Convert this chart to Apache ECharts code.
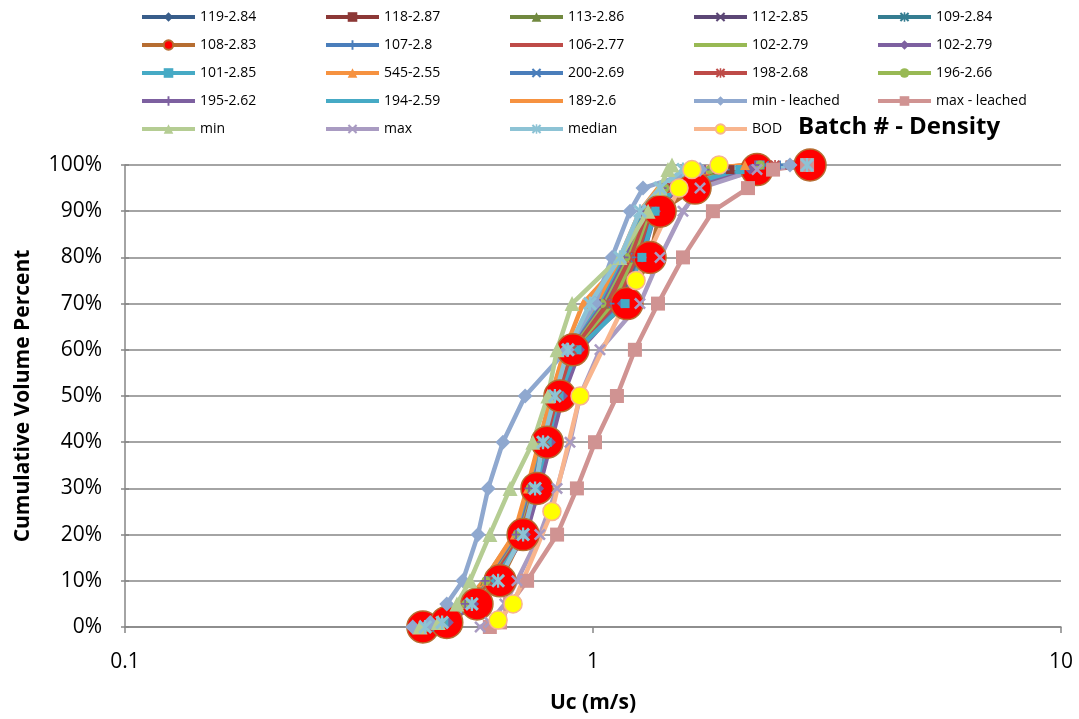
<!DOCTYPE html>
<html>
<head>
<meta charset="utf-8">
<title>Batch # - Density</title>
<script src="https://cdn.jsdelivr.net/npm/echarts@6/dist/echarts.min.js"></script>
<style>
  html, body { margin: 0; padding: 0; background: #fff; }
  #chart { width: 1079px; height: 719px; }
</style>
</head>
<body>
<div id="chart"></div>
<script>
// cumulative volume percent levels used by every sample series
const pctLevels = [0, 1, 5, 10, 20, 30, 40, 50, 60, 70, 80, 90, 95, 99, 100];
// BOD is sampled at its own levels
const bodPct = [1.5, 5, 25, 50, 75, 95, 99, 100];

// Uc (m/s), one value per level above
const uc119 = [0.444, 0.477, 0.541, 0.596, 0.698, 0.743, 0.790, 0.838, 0.902, 1.100, 1.211, 1.311, 1.447, 1.868, 2.275];
const uc118 = [0.449, 0.483, 0.546, 0.602, 0.705, 0.752, 0.798, 0.846, 0.915, 1.114, 1.229, 1.324, 1.475, 1.962, 2.636];
const uc113 = [0.440, 0.471, 0.533, 0.588, 0.691, 0.738, 0.782, 0.829, 0.893, 1.076, 1.200, 1.297, 1.425, 1.823, 2.389];
const uc112 = [0.453, 0.490, 0.554, 0.614, 0.716, 0.762, 0.809, 0.858, 0.929, 1.131, 1.247, 1.344, 1.497, 2.061, 2.769];
const uc109 = [0.446, 0.480, 0.543, 0.599, 0.702, 0.748, 0.794, 0.842, 0.911, 1.142, 1.260, 1.357, 1.504, 2.112, 2.838];
const uc108 = [0.433, 0.487, 0.565, 0.633, 0.709, 0.759, 0.798, 0.850, 0.906, 1.182, 1.324, 1.391, 1.652, 2.241, 2.909];
const uc107 = [0.442, 0.476, 0.538, 0.593, 0.695, 0.741, 0.786, 0.833, 0.897, 1.087, 1.211, 1.311, 1.447, 1.915, 2.510];
const uc106 = [0.451, 0.486, 0.549, 0.608, 0.709, 0.756, 0.801, 0.850, 0.920, 1.120, 1.235, 1.331, 1.468, 2.011, 2.702];
const uc102a = [0.444, 0.477, 0.541, 0.599, 0.698, 0.743, 0.790, 0.838, 0.906, 1.100, 1.217, 1.318, 1.461, 1.943, 2.572];
const uc102b = [0.455, 0.492, 0.557, 0.617, 0.719, 0.767, 0.813, 0.863, 0.938, 1.153, 1.273, 1.363, 1.519, 2.165, 2.880];
const uc101 = [0.446, 0.480, 0.543, 0.602, 0.705, 0.752, 0.798, 0.846, 0.924, 1.171, 1.272, 1.357, 1.497, 2.061, 2.275];
const uc545 = [0.438, 0.471, 0.535, 0.591, 0.681, 0.726, 0.770, 0.817, 0.871, 0.952, 1.171, 1.291, 1.425, 1.735, 2.112];
const uc200 = [0.442, 0.476, 0.538, 0.596, 0.691, 0.738, 0.782, 0.833, 0.893, 1.061, 1.188, 1.297, 1.447, 1.796, 2.331];
const uc198 = [0.444, 0.477, 0.541, 0.599, 0.695, 0.741, 0.790, 0.838, 0.902, 1.076, 1.200, 1.304, 1.447, 1.849, 2.449];
const uc196 = [0.440, 0.473, 0.535, 0.591, 0.688, 0.734, 0.778, 0.825, 0.884, 1.045, 1.176, 1.285, 1.425, 1.778, 2.275];
const uc195 = [0.438, 0.471, 0.533, 0.588, 0.685, 0.730, 0.774, 0.821, 0.880, 1.035, 1.165, 1.272, 1.404, 1.735, 2.219];
const uc194 = [0.435, 0.469, 0.530, 0.585, 0.681, 0.726, 0.770, 0.817, 0.876, 1.025, 1.153, 1.266, 1.391, 1.693, 2.165];
const uc189 = [0.435, 0.469, 0.530, 0.585, 0.678, 0.723, 0.767, 0.813, 0.871, 1.015, 1.142, 1.260, 1.377, 1.677, 2.112];
const ucMinLeached = [0.412, 0.449, 0.487, 0.527, 0.568, 0.597, 0.642, 0.716, 0.880, 1.010, 1.098, 1.200, 1.279, 1.693, 2.636];
const ucMaxLeached = [0.602, 0.633, 0.665, 0.723, 0.838, 0.924, 1.010, 1.125, 1.229, 1.377, 1.557, 1.804, 2.144, 2.425, 2.867];
const ucMin = [0.427, 0.467, 0.512, 0.546, 0.602, 0.665, 0.744, 0.801, 0.838, 0.902, 1.142, 1.311, 1.391, 1.446, 1.475];
const ucMax = [0.574, 0.602, 0.648, 0.688, 0.770, 0.838, 0.893, 0.938, 1.035, 1.260, 1.391, 1.557, 1.693, 2.241, 2.880];
const ucMedian = [0.438, 0.476, 0.551, 0.627, 0.709, 0.752, 0.782, 0.829, 0.884, 0.985, 1.142, 1.260, 1.391, 1.557, 2.866];
const ucBod = [0.627, 0.675, 0.817, 0.938, 1.236, 1.527, 1.627, 1.859];

const yTicks = [0, 10, 20, 30, 40, 50, 60, 70, 80, 90, 100];

// excel-ish marker shapes
const X_PATH = 'path://M1.5,0 L5,3.5 L8.5,0 L10,1.5 L6.5,5 L10,8.5 L8.5,10 L5,6.5 L1.5,10 L0,8.5 L3.5,5 L0,1.5 Z';
const PLUS_PATH = 'path://M4,0 L6,0 L6,4 L10,4 L10,6 L6,6 L6,10 L4,10 L4,6 L0,6 L0,4 L4,4 Z';
const STAR_PATH = 'path://M1.5,0 L5,3.5 L8.5,0 L10,1.5 L6.5,5 L10,8.5 L8.5,10 L5,6.5 L1.5,10 L0,8.5 L3.5,5 L0,1.5 Z M4.2,0 L5.8,0 L5.8,10 L4.2,10 Z';

const FONT = '"Open Sans", Lato, sans-serif';

// name, values, colour, marker (size), marker fill/border for the special ones
const seriesDefs = [
    { name: '119-2.84', x: uc119, color: '#385D8A', symbol: 'diamond', size: 10 },
    { name: '118-2.87', x: uc118, color: '#8C3836', symbol: 'rect', size: 9 },
    { name: '113-2.86', x: uc113, color: '#71893F', symbol: 'triangle', size: 10 },
    { name: '112-2.85', x: uc112, color: '#5C4776', symbol: X_PATH, size: 9 },
    { name: '109-2.84', x: uc109, color: '#357D91', symbol: STAR_PATH, size: 10 },
    { name: '108-2.83', x: uc108, color: '#B66D31', symbol: 'circle', size: 32, fill: '#FF0000', border: '#B66D31' },
    { name: '107-2.8', x: uc107, color: '#4A7EBB', symbol: PLUS_PATH, size: 9 },
    { name: '106-2.77', x: uc106, color: '#BE4B48', symbol: 'none', size: 0 },
    { name: '102-2.79', x: uc102a, color: '#98B954', symbol: 'none', size: 0 },
    { name: '102-2.79 ', x: uc102b, color: '#7D60A0', symbol: 'diamond', size: 10 },
    { name: '101-2.85', x: uc101, color: '#46AAC5', symbol: 'rect', size: 9 },
    { name: '545-2.55', x: uc545, color: '#F69240', symbol: 'triangle', size: 10 },
    { name: '200-2.69', x: uc200, color: '#4A7EBB', symbol: X_PATH, size: 9 },
    { name: '198-2.68', x: uc198, color: '#BE4B48', symbol: STAR_PATH, size: 10 },
    { name: '196-2.66', x: uc196, color: '#98B954', symbol: 'circle', size: 9 },
    { name: '195-2.62', x: uc195, color: '#7D60A0', symbol: PLUS_PATH, size: 9 },
    { name: '194-2.59', x: uc194, color: '#46AAC5', symbol: 'none', size: 0 },
    { name: '189-2.6', x: uc189, color: '#F69240', symbol: 'none', size: 0 },
    { name: 'min - leached', x: ucMinLeached, color: '#8FA8CF', symbol: 'diamond', size: 15 },
    { name: 'max - leached', x: ucMaxLeached, color: '#D09392', symbol: 'rect', size: 14 },
    { name: 'min', x: ucMin, color: '#B5CD93', symbol: 'triangle', size: 15 },
    { name: 'max', x: ucMax, color: '#A99BC2', symbol: X_PATH, size: 12 },
    { name: 'median', x: ucMedian, color: '#8DC3D5', symbol: STAR_PATH, size: 14 },
    { name: 'BOD', x: ucBod, y: bodPct, color: '#F8B58E', symbol: 'circle', size: 18, fill: '#FFFF00', border: '#F8B58E' }
];

const series = seriesDefs.map(d => {
    const ys = d.y || pctLevels;
    return {
        type: 'line',
        name: d.name,
        data: d.x.map((v, i) => [v, ys[i]]),
        symbol: d.symbol,
        symbolSize: d.size,
        showSymbol: d.symbol !== 'none',
        lineStyle: { color: d.color, width: 4.5 },
        itemStyle: d.fill
            ? { color: d.fill, borderColor: d.border, borderWidth: 1.5 }
            : { color: d.color, borderWidth: 0 },
        emphasis: { disabled: true }
    };
});

// excel lays the legend out row by row in five columns
const colLeft = [140, 324, 508, 692, 876];
const legends = colLeft.map((left, c) => ({
    orient: 'vertical',
    left: left,
    top: 10,
    padding: 0,
    itemWidth: 53,
    itemHeight: 12,
    itemGap: 14,
    selectedMode: false,
    lineStyle: { width: 4 },
    textStyle: { fontSize: 14, fontFamily: FONT, color: '#000', lineHeight: 12 },
    data: seriesDefs
        .filter((d, i) => i % 5 === c)
        .map(d => d.symbol === 'none'
            ? { name: d.name, itemStyle: { opacity: 0 } }
            : { name: d.name })
}));

const chart = echarts.init(document.getElementById('chart'));
chart.setOption({
    animation: false,
    backgroundColor: '#fff',
    title: {
        text: 'Batch # - Density',
        left: 798,
        top: 114,
        padding: 0,
        textStyle: { fontSize: 24, fontWeight: 'bold', fontFamily: FONT, color: '#000', lineHeight: 26 }
    },
    legend: legends,
    grid: { left: 125, right: 18, top: 165, bottom: 91 },
    xAxis: {
        type: 'log',
        logBase: 10,
        min: 0.1,
        max: 10,
        name: 'Uc (m/s)',
        nameLocation: 'middle',
        nameGap: 66,
        nameTextStyle: { fontSize: 21, fontWeight: 'bold', fontFamily: FONT, color: '#000' },
        axisLine: { lineStyle: { color: '#868686', width: 1.5 } },
        axisTick: { show: true, length: 6, lineStyle: { color: '#868686', width: 1.5 } },
        minorTick: { show: false },
        axisLabel: { fontSize: 21, fontFamily: FONT, color: '#000', margin: 25 },
        splitLine: { show: false }
    },
    yAxis: [{
        type: 'value',
        min: yTicks[0],
        max: yTicks[yTicks.length - 1],
        interval: 10,
        name: 'Cumulative Volume Percent',
        nameLocation: 'middle',
        nameGap: 91,
        nameTextStyle: { fontSize: 21, fontWeight: 'bold', fontFamily: FONT, color: '#000' },
        axisLine: { show: true, lineStyle: { color: '#868686', width: 1.5 } },
        axisTick: { show: true, length: 4, lineStyle: { color: '#868686', width: 1.5 } },
        axisLabel: { fontSize: 21, fontFamily: FONT, color: '#000', margin: 23, formatter: '{value}%' },
        splitLine: { show: true, lineStyle: { color: '#868686', width: 1.5 } }
    }, {
        // inner half of excel's cross ticks
        type: 'value',
        position: 'left',
        min: yTicks[0],
        max: yTicks[yTicks.length - 1],
        interval: 10,
        axisLine: { show: false },
        axisTick: { show: true, inside: true, length: 4, lineStyle: { color: '#868686', width: 1.5 } },
        axisLabel: { show: false },
        splitLine: { show: false }
    }],
    series: series
});
</script>
</body>
</html>
